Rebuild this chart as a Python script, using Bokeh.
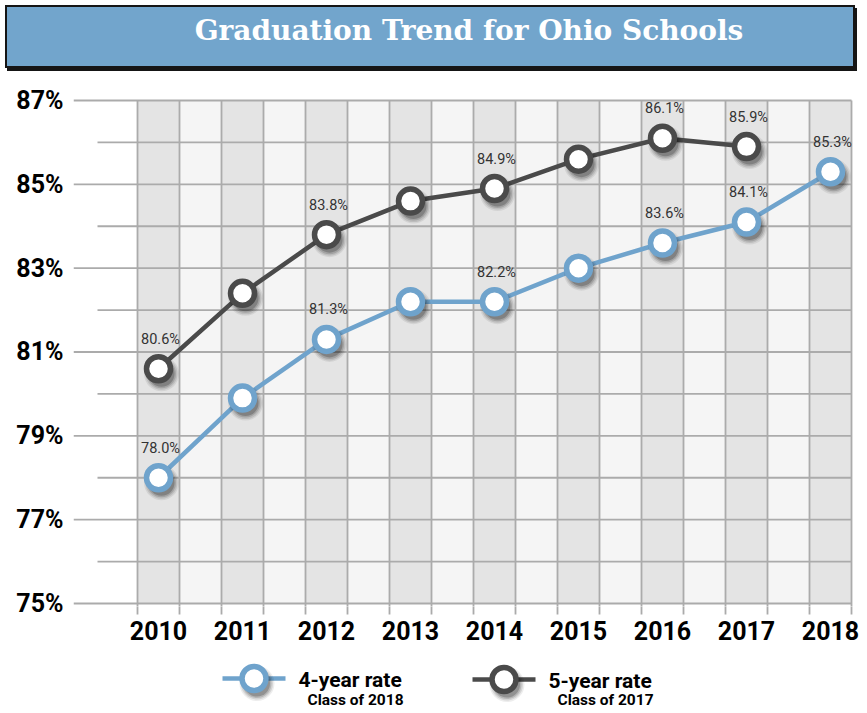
import numpy as np
from bokeh.plotting import figure
from bokeh.models import Range1d, FixedTicker, ColumnDataSource, Div
from bokeh.layouts import column
from bokeh.transform import dodge
from bokeh.core.properties import value
from bokeh.embed import file_html
from bokeh.resources import INLINE

# ---------------- data ----------------
title_text = "Graduation Trend for Ohio Schools"
years = [2010, 2011, 2012, 2013, 2014, 2015, 2016, 2017, 2018]
four_year = [78.0, 79.9, 81.3, 82.2, 82.2, 83.0, 83.6, 84.1, 85.3]
four_labeled = [True, False, True, False, True, False, True, True, True]
five_years = [2010, 2011, 2012, 2013, 2014, 2015, 2016, 2017]
five_year = [80.6, 82.4, 83.8, 84.6, 84.9, 85.6, 86.1, 85.9]
five_labeled = [True, False, True, False, True, False, True, True]
y_ticks = [75, 77, 79, 81, 83, 85, 87]
y_tick_labels = ["75%", "77%", "79%", "81%", "83%", "85%", "87%"]
y_minor = [76, 78, 80, 82, 84, 86]
legend_names = ["4-year rate", "5-year rate"]
legend_subs = ["Class of 2018", "Class of 2017"]

# ---------------- style / geometry ----------------
BLUE = "#6FA3CC"
DARK = "#4A4A4A"
GRID = "#ABABAB"
FONT = "Roboto"
W = 861
BORDER_L, BORDER_R = 73, 8
PX_YEAR = 84.0          # pixels per year
PX_PCT = 41.92          # pixels per percentage point

# ---------------- banner (title) ----------------
banner_html = (
    '<div style="box-sizing:border-box; margin:5px 0 0 5px; width:850px; height:63px;'
    ' background:#72A5CC; border:2px solid #151515; box-shadow:2px 3px 0 #151515;'
    " color:#FFFFFF; font-family:'DejaVu Serif'; font-weight:bold; font-size:28px;"
    ' line-height:48px; text-align:center; padding-left:78px; white-space:nowrap;">'
    + title_text + '</div>'
)
banner = Div(text=banner_html, width=W, height=72, margin=0)

# ---------------- main chart ----------------
MAIN_TOP, FRAME_TOP, FRAME_BOTTOM, MAIN_BOTTOM = 72, 90, 606, 650
y_end = y_ticks[-1] + (100 - FRAME_TOP) / PX_PCT
y_start = y_ticks[0] - (FRAME_BOTTOM - 603) / PX_PCT
x_start = years[0] - (158 - BORDER_L) / PX_YEAR
x_end = x_start + (W - BORDER_L - BORDER_R) / PX_YEAR

p = figure(width=W, height=MAIN_BOTTOM - MAIN_TOP,
           x_range=Range1d(x_start, x_end), y_range=Range1d(y_start, y_end),
           min_border_left=BORDER_L, min_border_right=BORDER_R,
           min_border_top=FRAME_TOP - MAIN_TOP, min_border_bottom=MAIN_BOTTOM - FRAME_BOTTOM,
           output_backend="svg", toolbar_location=None)
p.grid.visible = False
p.outline_line_color = None
p.background_fill_color = "white"

yrs = np.array(years, dtype=float)
bounds = np.arange(yrs[0] - 0.25, yrs[-1] + 0.26, 0.5)

# column shading
p.quad(left=yrs[:-1] + 0.25, right=yrs[1:] - 0.25, bottom=y_ticks[0], top=y_ticks[-1],
       fill_color="#F5F5F5", line_color=None)
p.quad(left=yrs - 0.25, right=yrs + 0.25, bottom=y_ticks[0], top=y_ticks[-1],
       fill_color="#E4E4E4", line_color=None)

# grid lines
minor_left = years[0] - (158 - 97) / PX_YEAR
p.segment(x0=[x_start] * len(y_ticks), y0=y_ticks, x1=[bounds[-1]] * len(y_ticks),
          y1=y_ticks, line_color=GRID, line_width=1.8)
p.segment(x0=[minor_left] * len(y_minor), y0=y_minor, x1=[bounds[-1]] * len(y_minor),
          y1=y_minor, line_color=GRID, line_width=1.8)
p.segment(x0=bounds, y0=[y_start] * len(bounds), x1=bounds,
          y1=[y_ticks[-1]] * len(bounds), line_color=GRID, line_width=1.8)

# series
src4 = ColumnDataSource(dict(x=years, y=four_year))
src5 = ColumnDataSource(dict(x=five_years, y=five_year))

p.line("x", "y", source=src5, line_color=DARK, line_width=4.5)
p.line("x", "y", source=src4, line_color=BLUE, line_width=4.5)

SHADOW = ((35, 0.07), (32, 0.10), (29, 0.14), (26, 0.20))
for src in (src5, src4):
    for sz, al in SHADOW:
        p.scatter(x=dodge("x", 3 / PX_YEAR), y=dodge("y", -5 / PX_PCT), source=src,
                  size=sz, fill_color="black", fill_alpha=al, line_color=None)

p.scatter("x", "y", source=src5, size=24, fill_color="white",
          line_color=DARK, line_width=5.5)
p.scatter("x", "y", source=src4, size=24, fill_color="white",
          line_color=BLUE, line_width=5.5)

def label_source(xs, ys, flags):
    sel = [i for i, f in enumerate(flags) if f]
    return ColumnDataSource(dict(x=[xs[i] for i in sel], y=[ys[i] for i in sel],
                                 t=[f"{ys[i]:.1f}%" for i in sel]))

for lsrc in (label_source(years, four_year, four_labeled),
             label_source(five_years, five_year, five_labeled)):
    p.text("x", "y", text="t", source=lsrc, text_font=value(FONT),
           text_font_size="14.5px", text_color="#333333", text_align="center",
           text_baseline="bottom", x_offset=2, y_offset=-21)

# axes
p.yaxis.ticker = FixedTicker(ticks=y_ticks)
p.yaxis.major_label_overrides = {t: l for t, l in zip(y_ticks, y_tick_labels)}
p.yaxis.major_label_text_font = FONT
p.yaxis.major_label_text_font_style = "bold"
p.yaxis.major_label_text_font_size = "25px"
p.yaxis.major_label_text_color = "black"
p.yaxis.major_label_standoff = 4
p.yaxis.major_tick_line_color = None
p.yaxis.minor_tick_line_color = None
p.yaxis.axis_line_color = None

p.xaxis.ticker = FixedTicker(ticks=years, minor_ticks=list(bounds))
p.xaxis.major_label_overrides = {y: str(y) for y in years}
p.xaxis.major_label_text_font = FONT
p.xaxis.major_label_text_font_style = "bold"
p.xaxis.major_label_text_font_size = "25px"
p.xaxis.major_label_text_color = "black"
p.xaxis.major_label_standoff = 6
p.xaxis.major_tick_line_color = None
p.xaxis.major_tick_out = 0
p.xaxis.major_tick_in = 0
p.xaxis.minor_tick_line_color = GRID
p.xaxis.minor_tick_line_width = 1.8
p.xaxis.minor_tick_out = 8
p.xaxis.minor_tick_in = 0
p.xaxis.axis_line_color = None

# ---------------- legend (page-pixel coordinates) ----------------
LEG_TOP, LEG_BOTTOM = MAIN_BOTTOM, 708
lg = figure(width=W, height=LEG_BOTTOM - LEG_TOP,
            x_range=Range1d(BORDER_L, W - BORDER_R), y_range=Range1d(LEG_BOTTOM, LEG_TOP),
            min_border_left=BORDER_L, min_border_right=BORDER_R,
            min_border_top=0, min_border_bottom=0,
            x_axis_location=None, y_axis_location=None,
            output_backend="svg", toolbar_location=None)
lg.grid.visible = False
lg.outline_line_color = None
lx = [222, 472]
ly = [678, 679]
lcol = [BLUE, DARK]
lg.segment(x0=lx, y0=ly, x1=[x + 63 for x in lx], y1=ly, line_color=lcol, line_width=4.5)
for sz, al in SHADOW:
    lg.scatter(x=[x + 34.5 for x in lx], y=[y + 5 for y in ly], size=sz,
               fill_color="black", fill_alpha=al, line_color=None)
lg.scatter(x=[x + 31.5 for x in lx], y=ly, size=24, fill_color="white",
           line_color=lcol, line_width=5.5)
lg.text(x=[x + 76 for x in lx], y=[y + 1 for y in ly], text=legend_names,
        text_font=value(FONT), text_font_style="bold", text_font_size="21px",
        text_color="black", text_baseline="middle", text_align="left")
lg.text(x=[x + 85 for x in lx], y=[699, 699], text=legend_subs,
        text_font=value(FONT), text_font_style="bold", text_font_size="15.5px",
        text_color="black", text_baseline="middle", text_align="left")

layout = column(banner, p, lg, spacing=0)
open("out.html", "w").write(file_html(layout, INLINE))
